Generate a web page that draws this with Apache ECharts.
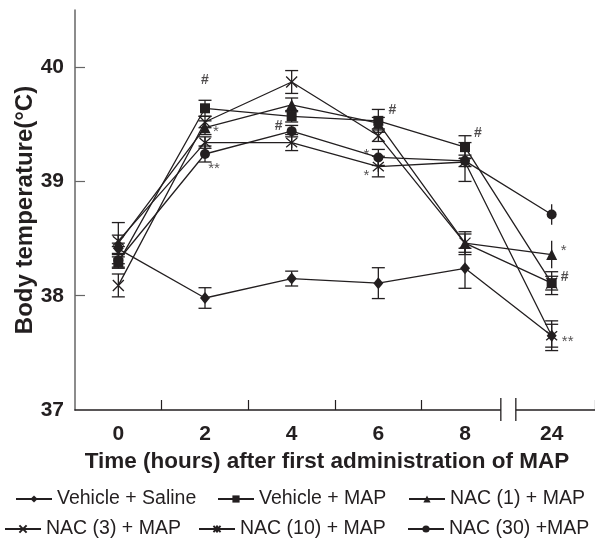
<!DOCTYPE html>
<html>
<head>
<meta charset="utf-8">
<script src="https://cdn.jsdelivr.net/npm/echarts@6/dist/echarts.min.js"></script>
<style>html,body{margin:0;padding:0;background:#fff;}#c{width:595px;height:540px;}</style>
</head>
<body>
<div id="c"></div>
<script>
// ---- data ----
const categories = ['0', '2', '4', '6', '8', '24'];
const yTicks = [37, 38, 39, 40];

const vehicleSaline = [38.41, 37.98, 38.15, 38.11, 38.24, 37.65];
const vehicleMap    = [38.29, 39.64, 39.57, 39.53, 39.30, 38.11];
const nac1Map       = [38.46, 39.47, 39.67, 39.51, 38.46, 38.36];
const nac3Map       = [38.09, 39.52, 39.87, 39.40, 38.46, 38.11];
const nac10Map      = [38.48, 39.34, 39.34, 39.13, 39.17, 37.65];
const nac30Map      = [38.31, 39.24, 39.44, 39.21, 39.18, 38.71];

const errSaline = [0.05, 0.09, 0.065, 0.135, 0.175, 0.10];
const errVehMap = [0.05, 0.07, 0.05, 0.10, 0.10, 0.06];
const errNac1   = [0.18, 0.06, 0.06, 0.05, 0.10, 0.12];
const errNac3   = [0.10, 0.05, 0.10, 0.05, 0.08, 0.10];
const errNac10  = [0.05, 0.05, 0.07, 0.09, 0.17, 0.13];
const errNac30  = [0.06, 0.07, 0.05, 0.07, 0.05, 0.09];

const seriesNames = ['Vehicle + Saline', 'Vehicle + MAP', 'NAC (1) + MAP',
                     'NAC (3) + MAP', 'NAC (10) + MAP', 'NAC (30) +MAP'];

// significance marks: [series index, category index, text]
const marks = [
  [1, 1, '#'], [2, 1, '*'], [5, 1, '**'],
  [5, 2, '#'],
  [1, 3, '#'], [5, 3, '*'], [4, 3, '*'],
  [1, 4, '#'],
  [2, 5, '*'], [1, 5, '#'], [4, 5, '**']
];

// ---- styling ----
const INK = '#231f20';
const FONT = '"Liberation Sans", Arial, Helvetica, sans-serif';
const values = [vehicleSaline, vehicleMap, nac1Map, nac3Map, nac10Map, nac30Map];
const errors = [errSaline, errVehMap, errNac1, errNac3, errNac10, errNac30];
const symbols = [
  {symbol: 'diamond', size: [10, 12], fill: INK},
  {symbol: 'rect', size: 10, fill: INK},
  {symbol: 'triangle', size: 11, fill: INK},
  {symbol: 'path://M0,0L10,10M10,0L0,10', size: 11, fill: 'none'},
  {symbol: 'path://M0,0L10,10M10,0L0,10M5,-1L5,11', size: 11, fill: 'none'},
  {symbol: 'circle', size: 10, fill: INK}
];
// no caps on these (series, category)
const noCap = {'2-5': true, '5-5': true};
const markOffsets = [
  [0, -28], [11, 4], [9, 15],
  [-13, -5],
  [14, -11], [-12, -3], [-12, 9],
  [13, -14],
  [12, -4], [13, -6], [16, 6]
];
const legendPos = [[15, 489], [217, 489], [408, 489], [4, 519], [198, 519], [407, 519]];

const chart = echarts.init(document.getElementById('c'), null, {renderer: 'canvas'});

function errRender(params, api) {
  const x = api.value(0), m = api.value(1), e = api.value(2), cap = api.value(3);
  const t = api.coord([x, m + e]);
  const b = api.coord([x, m - e]);
  const style = {stroke: INK, lineWidth: 1.3};
  const children = [{type: 'line', shape: {x1: t[0], y1: t[1], x2: b[0], y2: b[1]}, style}];
  if (cap) {
    const w = 6.5;
    children.push({type: 'line', shape: {x1: t[0] - w, y1: t[1], x2: t[0] + w, y2: t[1]}, style});
    children.push({type: 'line', shape: {x1: b[0] - w, y1: b[1], x2: b[0] + w, y2: b[1]}, style});
  }
  return {type: 'group', children};
}

const series = [];
seriesNames.forEach((name, s) => {
  series.push({
    name, type: 'line', data: values[s],
    symbol: symbols[s].symbol, symbolSize: symbols[s].size, showAllSymbol: true,
    lineStyle: {color: INK, width: 1.3},
    itemStyle: {color: symbols[s].fill, borderColor: INK, borderWidth: symbols[s].fill === 'none' ? 1.3 : 0},
    z: 3
  });
  series.push({
    type: 'custom', renderItem: errRender, silent: true, z: 2,
    data: categories.map((c, i) => [i, values[s][i], errors[s][i], noCap[s + '-' + i] ? 0 : 1]),
    encode: {x: 0, y: 1}
  });
});
series.push({
  type: 'scatter', symbolSize: 0, silent: true, z: 5,
  data: marks.map((m, k) => ({
    value: [m[1], values[m[0]][m[1]]],
    label: {show: true, position: 'inside', formatter: m[2], offset: markOffsets[k],
            color: INK, fontSize: m[2] === '#' ? 14 : 15, fontWeight: m[2] === '#' ? 'bold' : 'normal',
            fontFamily: FONT}
  }))
});

const legends = seriesNames.map((n, i) => ({
  data: [n], left: legendPos[i][0], top: legendPos[i][1], padding: 0,
  itemWidth: 36, itemHeight: 9, selectedMode: false,
  textStyle: {fontSize: 19.5, color: INK, fontFamily: FONT}
}));

chart.setOption({
  animation: false,
  backgroundColor: '#fff',
  grid: {left: 75, right: 0, top: 10, bottom: 130, containLabel: false, outerBoundsMode: 'none'},
  legend: legends,
  xAxis: {
    type: 'category', data: categories, boundaryGap: true,
    axisLine: {lineStyle: {color: INK, width: 1.6}},
    axisTick: {show: true, inside: true, length: 10, interval: (i) => i >= 1 && i <= 4,
               lineStyle: {color: INK, width: 1.2}},
    axisLabel: {interval: 0, fontSize: 21, fontWeight: 'bold', color: INK, margin: 14, fontFamily: FONT},
    name: 'Time (hours) after first administration of MAP',
    nameLocation: 'middle', nameGap: 40, nameMoveOverlap: false,
    nameTextStyle: {fontSize: 22.5, fontWeight: 'bold', color: INK, fontFamily: FONT, padding: [0, 16, 0, 0]},
    splitLine: {show: false}
  },
  yAxis: {
    type: 'value', min: 37, max: 40.5, interval: 1,
    axisLine: {show: true, lineStyle: {color: '#666', width: 1.5}},
    axisTick: {show: true, inside: true, length: 10, customValues: [38, 39, 40],
               lineStyle: {color: '#666', width: 1.2}},
    axisLabel: {customValues: yTicks, fontSize: 21, fontWeight: 'bold', color: INK, margin: 11, fontFamily: FONT},
    splitLine: {show: false},
    name: 'Body temperature(°C)', nameLocation: 'middle', nameGap: 38, nameRotate: 90,
    nameMoveOverlap: false,
    nameTextStyle: {fontSize: 24, fontWeight: 'bold', color: INK, fontFamily: FONT}
  },
  series
});

// axis break marks between the last two categories
const c8 = chart.convertToPixel({xAxisIndex: 0}, '8');
const c24 = chart.convertToPixel({xAxisIndex: 0}, '24');
const bx = (c8 + c24) / 2;
const ay = chart.convertToPixel({yAxisIndex: 0}, 37);
chart.setOption({
  graphic: [
    {type: 'rect', shape: {x: bx - 7.5, y: ay - 3, width: 15, height: 6}, style: {fill: '#fff'}, z: 10},
    {type: 'line', shape: {x1: bx - 7.5, y1: ay - 12, x2: bx - 7.5, y2: ay + 11}, style: {stroke: INK, lineWidth: 1.3}, z: 11},
    {type: 'line', shape: {x1: bx + 7.5, y1: ay - 12, x2: bx + 7.5, y2: ay + 11}, style: {stroke: INK, lineWidth: 1.3}, z: 11}
  ]
});
</script>
</body>
</html>
